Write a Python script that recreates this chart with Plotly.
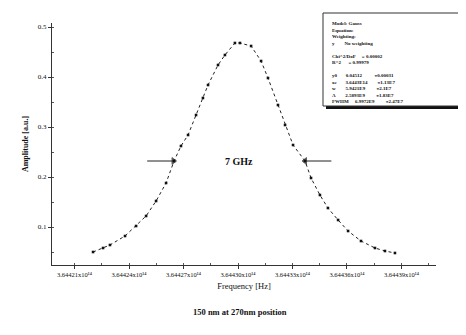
import plotly.graph_objects as go

# ---- data ----
center_hz = 3.64430e14
offset_ghz = [-7.98, -7.43, -7.05, -6.22, -5.61, -5.06, -4.51, -3.96, -3.52, -3.14,
              -2.75, -2.31, -1.93, -1.65, -1.10, -0.72, -0.17, 0.11, 0.72, 1.27,
              1.65, 2.20, 2.59, 3.03, 3.69, 4.02, 4.51, 4.95, 5.51, 6.06,
              6.77, 7.54, 8.09, 8.64]
amplitude = [0.050, 0.058, 0.064, 0.082, 0.102, 0.122, 0.152, 0.188, 0.232, 0.262,
             0.284, 0.324, 0.358, 0.384, 0.424, 0.444, 0.468, 0.468, 0.462, 0.432,
             0.398, 0.344, 0.304, 0.264, 0.232, 0.198, 0.164, 0.138, 0.114, 0.092,
             0.072, 0.058, 0.052, 0.048]
tick_vals_hz = [3.64421e14, 3.64424e14, 3.64427e14, 3.64430e14, 3.64433e14, 3.64436e14, 3.64439e14]
tick_text = ["3.64421x10¹⁴", "3.64424x10¹⁴", "3.64427x10¹⁴", "3.64430x10¹⁴",
             "3.64433x10¹⁴", "3.64436x10¹⁴", "3.64439x10¹⁴"]
y_ticks = [0.1, 0.2, 0.3, 0.4, 0.5]
y_tick_text = ["0.1", "0.2", "0.3", "0.4", "0.5"]
half_max = 0.232
left_half_ghz, right_half_ghz = -3.55, 3.69
arrow_len_ghz = 1.45
fit_box_lines = [
    "Model: Gauss",
    "Equation:",
    "Weighting:",
    "y        No weighting",
    "\u00a0",
    "Chi^2/DoF     = 0.00002",
    "R^2      = 0.99979",
    "\u00a0",
    "y0       0.04512          ±0.00031",
    "xc       3.6443E14        ±1.13E7",
    "w        5.9421E9         ±2.1E7",
    "A        2.5893E9         ±1.83E7",
    "FWHM     6.9972E9         ±2.47E7",
]

freq_hz = [center_hz + o * 1e9 for o in offset_ghz]

fig = go.Figure()
fig.add_trace(go.Scatter(
    x=freq_hz, y=amplitude, mode="lines+markers",
    line=dict(color="#222", width=1, dash="dot"),
    marker=dict(symbol="square", size=2.6, color="#111"),
    showlegend=False, hoverinfo="skip",
))

# FWHM arrows drawn as short lines with arrow heads at the curve
for o, direction in [(left_half_ghz, -1), (right_half_ghz, 1)]:
    head = center_hz + o * 1e9
    tail = head + direction * arrow_len_ghz * 1e9
    fig.add_trace(go.Scatter(
        x=[tail, head], y=[half_max, half_max], mode="lines+markers",
        line=dict(color="#222", width=1),
        marker=dict(symbol=["circle", "triangle-right" if direction < 0 else "triangle-left"],
                    size=[0, 6], color="#111"),
        showlegend=False, hoverinfo="skip",
    ))

serif = "Liberation Serif"
W, H = 466, 335
L, R, T, B = 44, 38, 15, 78
pw, ph = W - L - R, H - T - B


def px(x):
    return (x - L) / pw


def py(y):
    return 1 - (y - T) / ph


fig.add_annotation(x=center_hz + 0.05e9, y=half_max, text="<b>7 GHz</b>", showarrow=False,
                   font=dict(family=serif, size=10, color="#111"))

# fit box with shadow
fig.add_shape(type="rect", xref="paper", yref="paper",
              x0=px(318), x1=px(466), y0=py(101), y1=py(97),
              fillcolor="#111", line=dict(width=0))
fig.add_shape(type="rect", xref="paper", yref="paper",
              x0=px(315), x1=px(464), y0=py(98), y1=py(5),
              fillcolor="white", line=dict(color="#333", width=1))
fig.add_annotation(xref="paper", yref="paper", x=px(322), y=py(11),
                   xanchor="left", yanchor="top", align="left", showarrow=False,
                   text="<b>" + "<br>".join(fit_box_lines) + "</b>",
                   font=dict(family=serif, size=5, color="#111"))

# caption
fig.add_annotation(xref="paper", yref="paper", x=px(232), y=py(311),
                   text="<b>150 nm at 270nm position</b>", showarrow=False,
                   font=dict(family=serif, size=8.5, color="#111"))

fig.update_layout(
    width=W, height=H,
    margin=dict(l=L, r=R, t=T, b=B),
    paper_bgcolor="white", plot_bgcolor="white",
    font=dict(family=serif, color="#111"),
    xaxis=dict(
        range=[center_hz - 10.24e9, center_hz + 10.90e9],
        tickvals=tick_vals_hz, ticktext=tick_text,
        tickfont=dict(size=6.5), showgrid=False, zeroline=False,
        showline=True, linecolor="#333", linewidth=1,
        ticks="outside", ticklen=3, tickcolor="#333",
        minor=dict(ticks="inside", ticklen=2, tickcolor="#555", dtick=1.5e9, tick0=3.64421e14),
        title=dict(text="Frequency [Hz]", font=dict(size=8.5), standoff=6),
    ),
    yaxis=dict(
        range=[0.024, 0.508],
        tickvals=y_ticks, ticktext=y_tick_text,
        tickfont=dict(size=7), showgrid=False, zeroline=False,
        showline=True, linecolor="#333", linewidth=1,
        ticks="outside", ticklen=3, tickcolor="#333",
        minor=dict(ticks="inside", ticklen=2, tickcolor="#555", dtick=0.05, tick0=0.0),
        title=dict(text="<b>Amplitude [a.u.]</b>", font=dict(size=8), standoff=8),
    ),
)

fig.write_html("out.html")
